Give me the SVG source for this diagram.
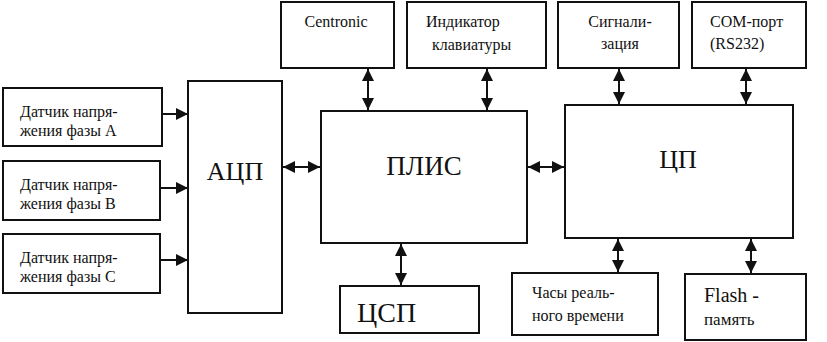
<svg xmlns="http://www.w3.org/2000/svg" width="827" height="342" viewBox="0 0 827 342">
<defs>
<marker id="ah" viewBox="0 0 10 10" refX="10" refY="5" markerWidth="6" markerHeight="6" markerUnits="strokeWidth" orient="auto-start-reverse">
<path d="M0,0 L10,5 L0,10 Z" fill="#111"/>
</marker>
</defs>
<rect width="827" height="342" fill="#fff"/>
<g id="boxes" fill="#fff" stroke="#111" stroke-width="2">
<rect id="sensorA" x="3" y="88" width="159" height="58"/>
<rect id="sensorB" x="3" y="161" width="157" height="59"/>
<rect id="sensorC" x="3" y="234" width="157" height="59"/>
<rect id="adc" x="188" y="81" width="94" height="232"/>
<rect id="fpga" x="321" y="111" width="206" height="132"/>
<rect id="cpu" x="565" y="105" width="228" height="133"/>
<rect id="centronic" x="281" y="2" width="113" height="66"/>
<rect id="indicator" x="407" y="2" width="139" height="66"/>
<rect id="signal" x="558" y="2" width="121" height="66"/>
<rect id="com" x="692" y="2" width="114" height="66"/>
<rect id="dsp" x="340" y="286" width="139" height="47"/>
<rect id="clock" x="512" y="273" width="146" height="62"/>
<rect id="flash" x="685" y="274" width="121" height="66"/>
</g>
<g id="labels" fill="#111">
<text x="20" y="117" style="font-family:'Liberation Serif',serif;font-size:16px">Датчик напря-</text>
<text x="20" y="136" style="font-family:'Liberation Serif',serif;font-size:16px">жения фазы А</text>
<text x="20" y="190" style="font-family:'Liberation Serif',serif;font-size:16px">Датчик напря-</text>
<text x="20" y="209" style="font-family:'Liberation Serif',serif;font-size:16px">жения фазы В</text>
<text x="20" y="263" style="font-family:'Liberation Serif',serif;font-size:16px">Датчик напря-</text>
<text x="20" y="282" style="font-family:'Liberation Serif',serif;font-size:16px">жения фазы С</text>
<text x="235" y="180" text-anchor="middle" style="font-family:'Liberation Serif',serif;font-size:26px">АЦП</text>
<text x="424" y="175" text-anchor="middle" style="font-family:'Liberation Serif',serif;font-size:27px">ПЛИС</text>
<text x="678" y="168" text-anchor="middle" style="font-family:'Liberation Serif',serif;font-size:26px">ЦП</text>
<text x="336" y="27" text-anchor="middle" style="font-family:'Liberation Serif',serif;font-size:16px">Centronic</text>
<text x="426" y="27" style="font-family:'Liberation Serif',serif;font-size:16px">Индикатор</text>
<text x="432" y="50" style="font-family:'Liberation Serif',serif;font-size:16px">клавиатуры</text>
<text x="620" y="27" text-anchor="middle" style="font-family:'Liberation Serif',serif;font-size:16px">Сигнали-</text>
<text x="620" y="49" text-anchor="middle" style="font-family:'Liberation Serif',serif;font-size:16px">зация</text>
<text x="710" y="27" style="font-family:'Liberation Serif',serif;font-size:16px">COM-порт</text>
<text x="710" y="49" style="font-family:'Liberation Serif',serif;font-size:16px">(RS232)</text>
<text x="357" y="322" style="font-family:'Liberation Serif',serif;font-size:28px">ЦСП</text>
<text x="532" y="298" style="font-family:'Liberation Serif',serif;font-size:16px">Часы реаль-</text>
<text x="532" y="321" style="font-family:'Liberation Serif',serif;font-size:16px">ного времени</text>
<text x="704" y="302" style="font-family:'Liberation Serif',serif;font-size:20px">Flash -</text>
<text x="704" y="325" style="font-family:'Liberation Serif',serif;font-size:17px">память</text>
</g>
<g id="connectors" stroke="#111" stroke-width="2" fill="none">
<line x1="162" y1="114" x2="188" y2="114" marker-end="url(#ah)"/>
<line x1="160" y1="188" x2="188" y2="188" marker-end="url(#ah)"/>
<line x1="160" y1="260" x2="188" y2="260" marker-end="url(#ah)"/>
<line x1="283" y1="167" x2="320" y2="167" marker-start="url(#ah)" marker-end="url(#ah)"/>
<line x1="528" y1="167" x2="564" y2="167" marker-start="url(#ah)" marker-end="url(#ah)"/>
<line x1="368" y1="69" x2="368" y2="110" marker-start="url(#ah)" marker-end="url(#ah)"/>
<line x1="487" y1="69" x2="487" y2="110" marker-start="url(#ah)" marker-end="url(#ah)"/>
<line x1="401" y1="244" x2="401" y2="285" marker-start="url(#ah)" marker-end="url(#ah)"/>
<line x1="619" y1="69" x2="619" y2="104" marker-start="url(#ah)" marker-end="url(#ah)"/>
<line x1="746" y1="69" x2="746" y2="104" marker-start="url(#ah)" marker-end="url(#ah)"/>
<line x1="618" y1="239" x2="618" y2="272" marker-start="url(#ah)" marker-end="url(#ah)"/>
<line x1="751" y1="239" x2="751" y2="273" marker-start="url(#ah)" marker-end="url(#ah)"/>
</g>
</svg>
